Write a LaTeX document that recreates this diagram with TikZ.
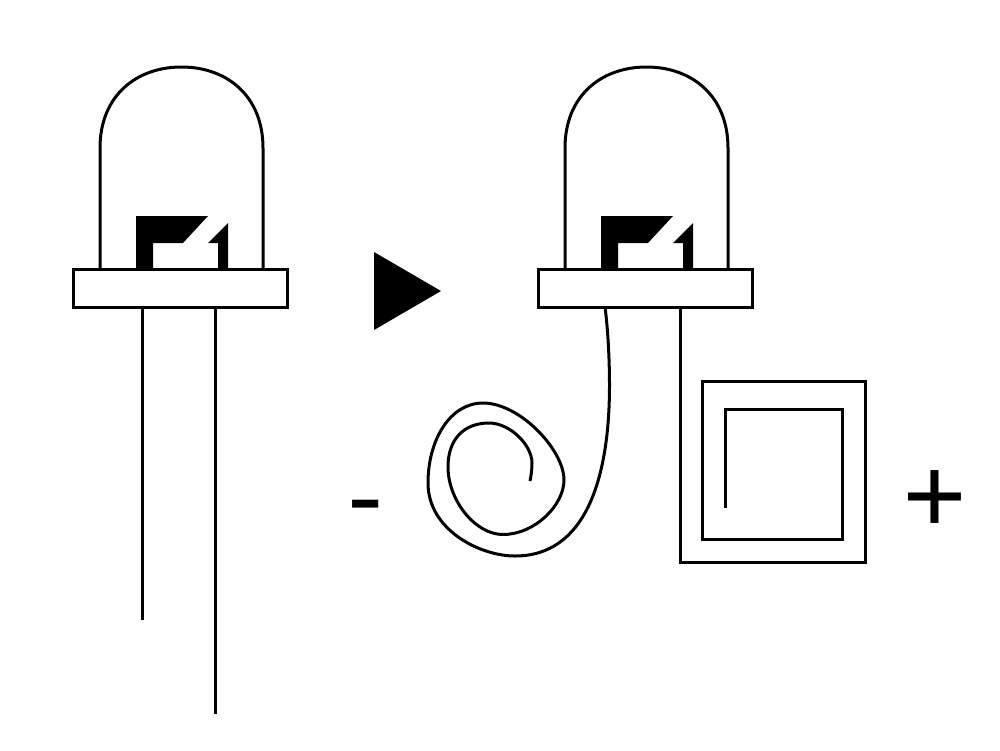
\documentclass[tikz,border=0pt]{standalone}
\usepackage{fontspec}
\setmainfont{TeX Gyre Heros}
\tikzset{
  wire/.style={draw=black,line width=3pt,line join=miter},
  fillpart/.style={fill=black,draw=none},
  sign/.style={inner sep=0pt,font=\fontsize{110}{110}\selectfont},
  bigsign/.style={inner sep=0pt,font=\fontsize{118}{118}\selectfont}
}
% One LED: dome, die contacts and base flange
\newcommand{\ledbody}[1]{%
  \begin{scope}[xshift=#1pt]
    \draw[wire] (100,270) -- (100,148)
      .. controls (100,96) and (136,67) .. (181.5,67)
      .. controls (227,67) and (263,96) .. (263,148) -- (263,270);
    \path[fillpart] (136,270) -- (136,216) -- (208,216) -- (183,243) -- (153,243) -- (153,270) -- cycle;
    \path[fillpart] (228,223) -- (208,243) -- (218,243) -- (218,270) -- (228,270) -- cycle;
    \draw[wire,fill=white] (73.5,269.5) rectangle (287.5,307);
  \end{scope}}
\begin{document}
\begin{tikzpicture}[x=1pt,y=-1pt]
  \useasboundingbox (0,0) rectangle (1000,750);
  \fill[white] (0,0) rectangle (1000,750);
  \ledbody{0}
  \ledbody{465}
  % straight leads
  \draw[wire] (142,307) -- (142,620);
  \draw[wire] (215,307) -- (215,714);
  % direction marker
  \path[fillpart] (374,252) -- (441,291) -- (374,330) -- cycle;
  % spiral cathode lead
  \draw[wire,line join=round] (605,307)
    .. controls (608,330) and (609.5,360) .. (609.5,385)
    .. controls (609.5,480) and (585,556) .. (515,556)
    .. controls (480,556) and (428,530) .. (428,483)
    .. controls (428,440) and (450,403) .. (483,403)
    .. controls (520,403) and (564,450) .. (564,480)
    .. controls (564,505) and (535,534.5) .. (503,534.5)
    .. controls (475,534.5) and (448,500) .. (448,467)
    .. controls (448,438) and (465,423) .. (489,423)
    .. controls (510,423) and (532,445) .. (532,463)
    .. controls (532,470) and (531,476) .. (530,481);
  % square-wound anode lead
  \draw[wire] (680,307) -- (680,562) -- (865,562) -- (865,381) -- (702,381)
    -- (702,539) -- (842,539) -- (842,409) -- (725,409) -- (725,508);
  % polarity signs
  \node[sign] (minus) at (366,517) {-};
  \node[bigsign] (plus) at (934.5,499) {+};
\end{tikzpicture}
\end{document}
